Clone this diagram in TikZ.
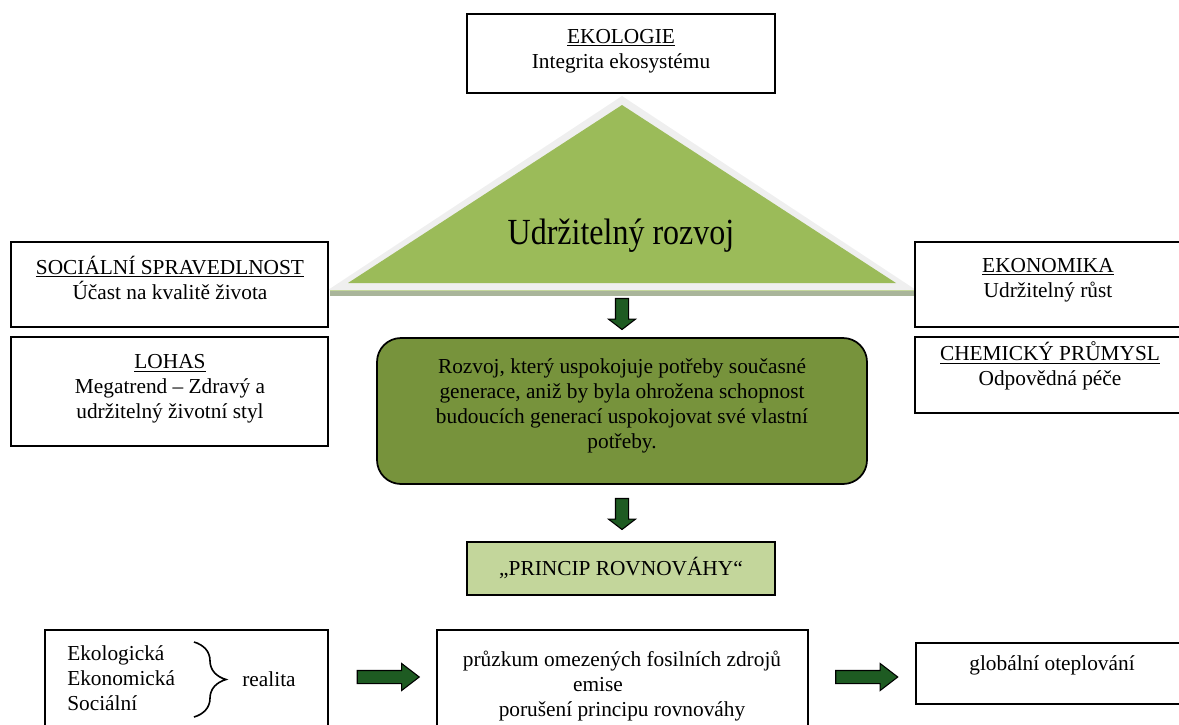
\documentclass[tikz,border=0pt]{standalone}
\usepackage{fontspec}
\setmainfont{Liberation Serif}
\usetikzlibrary{shapes.arrows,decorations.pathreplacing}
\definecolor{leafgreen}{HTML}{9BBB59}
\definecolor{olivegreen}{HTML}{77933C}
\definecolor{palegreen}{HTML}{C3D69B}
\definecolor{arrowgreen}{HTML}{1E5B22}
\definecolor{shadegrey}{HTML}{EFEFEF}
\definecolor{baseband}{HTML}{A9B59A}
\newcommand{\diagfont}{\fontsize{16}{18.75}\selectfont}
\newcommand{\titlefont}{\fontsize{24}{28}\selectfont}
\tikzset{
  box/.style={draw,fill=white,line width=1.3pt,inner sep=0pt},
  boxtext/.style={align=center,inner sep=0pt,font=\diagfont},
  blockarrow/.style={single arrow,draw,fill=arrowgreen,line width=0.8pt,
    inner xsep=0pt,inner ysep=4.5pt,single arrow head extend=5.25pt},
  downarrow/.style={blockarrow,rotate=-90,minimum height=23.25pt,single arrow tip angle=105},
  rightarrow/.style={blockarrow,minimum height=46.5pt,single arrow tip angle=75}
}

\begin{document}
\begin{tikzpicture}[x=0.75pt,y=-0.75pt]
  \useasboundingbox (0,0) rectangle (1179,725);
  \clip (0,0) rectangle (1179,725);

  % triangle
  \fill[shadegrey] (622,96) -- (328,290) -- (916,290) -- cycle;
  \fill[leafgreen] (622,105) -- (348,283) -- (896,283) -- cycle;
  \fill[baseband] (330,291) rectangle (915,296);
  \draw[leafgreen!60,line width=0.6pt] (330,290.5) -- (915,290.5);
  \node[anchor=base,inner sep=0pt,font=\titlefont] (title) at (621,244) {\scalebox{1}[1.15]{Udržitelný rozvoj}};

  % pillars
  \node[box,minimum width=231pt,minimum height=59.25pt] (ecology) at (621,53.5) {};
  \node[boxtext] (ecologytext) at (621,51) {\underline{EKOLOGIE}\\Integrita ekosystému};
  \node[box,minimum width=237.75pt,minimum height=63.75pt] (social) at (169.5,284.5) {};
  \node[boxtext] (socialtext) at (170,278) {\underline{SOCIÁLNÍ SPRAVEDLNOST}\\Účast na kvalitě života};
  \node[box,minimum width=237.75pt,minimum height=81.75pt] (lohas) at (169.5,391.5) {};
  \node[boxtext] (lohastext) at (170,389) {\underline{LOHAS}\\Megatrend – Zdravý a\\udržitelný životní styl};
  \node[box,minimum width=199.5pt,minimum height=63.75pt] (economy) at (1048,284.5) {};
  \node[boxtext] (economytext) at (1048,280) {\underline{EKONOMIKA}\\Udržitelný růst};
  \node[box,minimum width=199.5pt,minimum height=57pt] (chemistry) at (1048,375) {};
  \node[boxtext] (chemistrytext) at (1050,366) {\underline{CHEMICKÝ PRŮMYSL}\\Odpovědná péče};

  % definition and principle
  \node[downarrow] (arrowa) at (622,311.5) {};
  \node[box,fill=olivegreen,rounded corners=18pt,minimum width=367.5pt,minimum height=109.5pt] (definition) at (622,411) {};
  \node[boxtext] (definitiontext) at (622,406) {Rozvoj, který uspokojuje potřeby současné\\generace, aniž by byla ohrožena schopnost\\budoucích generací uspokojovat své vlastní\\potřeby.};
  \node[downarrow] (arrowb) at (622,511.5) {};
  \node[box,fill=palegreen,minimum width=231pt,minimum height=39.75pt] (principle) at (621,568.5) {};
  \node[boxtext] (principletext) at (621,568) {„PRINCIP ROVNOVÁHY“};

  % bottom row
  \node[box,minimum width=212.25pt,minimum height=82.5pt] (reality) at (186.5,685) {};
  \node[boxtext,align=left,anchor=west] (realitylist) at (67,678) {Ekologická\\Ekonomická\\Sociální};
  \draw[line width=1.2pt,decorate,decoration={brace,amplitude=24pt}] (194,642) -- (194,717);
  \node[boxtext] (realitytext) at (269,679) {realita};
  \node[rightarrow] (arrowc) at (384,677) {};
  \node[box,minimum width=278.25pt,minimum height=82.5pt] (sources) at (622.5,685) {};
  \node[boxtext] (sourcestext) at (622,686) {průzkum omezených fosilních zdrojů\\emise\rule{36pt}{0pt}\\porušení principu rovnováhy};
  \node[rightarrow] (arrowd) at (862.5,677) {};
  \node[box,minimum width=198.75pt,minimum height=45.75pt] (warming) at (1048.5,673.5) {};
  \node[boxtext] (warmingtext) at (1052,665) {globální oteplování};
\end{tikzpicture}
\end{document}
